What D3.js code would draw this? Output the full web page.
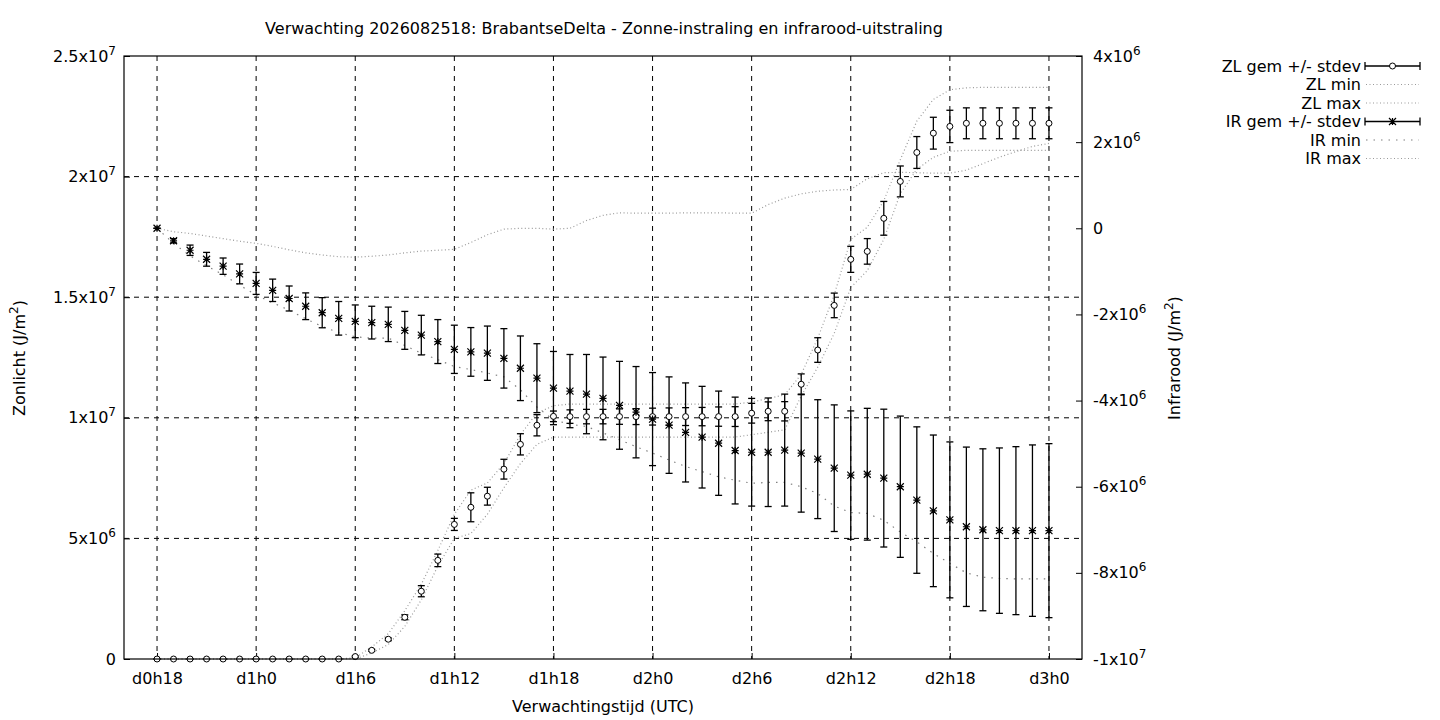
<!DOCTYPE html>
<html>
<head>
<meta charset="utf-8">
<script src="https://cdn.jsdelivr.net/npm/d3@7"></script>
<style>
  body { margin: 0; background: #fff; }
  svg { font-family: 'DejaVu Sans', sans-serif; font-size: 16px; }
</style>
</head>
<body>
<svg id="chart" width="1440" height="720"></svg>
<script>
// uren na d0h0, één punt per uur
const hours = [18, 19, 20, 21, 22, 23, 24, 25, 26, 27, 28, 29,
  30, 31, 32, 33, 34, 35, 36, 37, 38, 39, 40, 41,
  42, 43, 44, 45, 46, 47, 48, 49, 50, 51, 52, 53,
  54, 55, 56, 57, 58, 59, 60, 61, 62, 63, 64, 65,
  66, 67, 68, 69, 70, 71, 72];

// Zonlicht, in 10^6 J/m2
const zlMean = [0, 0, 0, 0, 0, 0, 0, 0, 0, 0, 0, 0,
  0.1, 0.36, 0.82, 1.73, 2.81, 4.09, 5.58, 6.29, 6.75, 7.87, 8.9, 9.69,
  10.06, 10.05, 10.05, 10.05, 10.05, 10.05, 10.05, 10.05, 10.05, 10.05, 10.05, 10.05,
  10.19, 10.27, 10.27, 11.39, 12.81, 14.66, 16.57, 16.9, 18.27, 19.8, 21.0, 21.8,
  22.08, 22.21, 22.21, 22.21, 22.21, 22.21, 22.21];
const zlStdev = [0, 0, 0, 0, 0, 0, 0, 0, 0, 0, 0, 0,
  0.03, 0.04, 0.05, 0.1, 0.23, 0.26, 0.25, 0.6, 0.37, 0.41, 0.44, 0.44,
  0.22, 0.28, 0.3, 0.3, 0.32, 0.33, 0.35, 0.36, 0.37, 0.38, 0.4, 0.41,
  0.41, 0.39, 0.4, 0.43, 0.51, 0.51, 0.54, 0.53, 0.7, 0.64, 0.66, 0.66,
  0.67, 0.64, 0.64, 0.64, 0.64, 0.64, 0.64];
const zlMin = [0, 0, 0, 0, 0, 0, 0, 0, 0, 0, 0, 0,
  0, 0.25, 0.6, 1.35, 2.45, 3.85, 5.0, 5.2, 6.0, 7.1, 8.1, 8.9,
  9.2, 9.2, 9.2, 9.2, 9.2, 9.2, 9.2, 9.2, 9.2, 9.2, 9.2, 9.2,
  9.3, 9.4, 9.5, 10.9, 12.1, 13.5, 15.4, 16.1, 17.4, 19.3, 20.3, 20.8,
  21.05, 21.09, 21.09, 21.09, 21.09, 21.09, 21.09];
const zlMax = [0, 0, 0, 0, 0, 0, 0, 0, 0, 0, 0, 0,
  0.05, 0.5, 1.05, 2.0, 3.1, 4.5, 6.0, 7.0, 7.3, 8.1, 9.3, 10.2,
  10.5, 10.57, 10.57, 10.57, 10.57, 10.57, 10.57, 10.57, 10.57, 10.57, 10.57, 10.57,
  10.65, 10.8, 10.95, 11.8, 13.3, 15.1, 17.4, 17.9, 19.0, 20.7, 22.3, 23.2,
  23.6, 23.68, 23.7, 23.7, 23.7, 23.7, 23.7];

// Infrarood, in 10^6 J/m2
const irMean = [0, -0.29, -0.51, -0.72, -0.88, -1.06, -1.28, -1.44, -1.63, -1.81, -1.96, -2.09,
  -2.16, -2.19, -2.23, -2.37, -2.48, -2.63, -2.81, -2.87, -2.9, -3.02, -3.25, -3.48,
  -3.71, -3.78, -3.85, -3.95, -4.11, -4.27, -4.43, -4.57, -4.74, -4.85, -4.99, -5.16,
  -5.2, -5.2, -5.15, -5.22, -5.36, -5.57, -5.73, -5.71, -5.8, -6.0, -6.31, -6.56,
  -6.77, -6.93, -7.0, -7.02, -7.02, -7.02, -7.02];
const irStdev = [0, 0.05, 0.12, 0.16, 0.19, 0.23, 0.255, 0.26, 0.29, 0.31, 0.35, 0.39,
  0.38, 0.38, 0.4, 0.44, 0.46, 0.51, 0.56, 0.565, 0.63, 0.69, 0.75, 0.8,
  0.85, 0.85, 0.92, 0.96, 1.02, 1.06, 1.08, 1.12, 1.15, 1.18, 1.21, 1.24,
  1.25, 1.26, 1.3, 1.37, 1.38, 1.47, 1.49, 1.53, 1.6, 1.64, 1.7, 1.76,
  1.81, 1.85, 1.88, 1.92, 1.95, 1.99, 2.02];
const irMin = [0, -0.35, -0.64, -0.87, -1.08, -1.32, -1.55, -1.73, -1.9, -2.1, -2.28, -2.42,
  -2.52, -2.55, -2.55, -2.72, -2.9, -3.05, -3.21, -3.28, -3.36, -3.45, -3.75, -4.15,
  -4.45, -4.55, -4.6, -4.75, -4.91, -5.07, -5.22, -5.38, -5.53, -5.65, -5.77, -5.85,
  -5.92, -5.9, -5.9, -6.0, -6.16, -6.45, -6.6, -6.62, -6.78, -7.05, -7.28, -7.55,
  -7.78, -8.0, -8.1, -8.13, -8.14, -8.14, -8.14];
const irMax = [0, -0.08, -0.12, -0.18, -0.24, -0.3, -0.35, -0.42, -0.5, -0.57, -0.62, -0.66,
  -0.67, -0.65, -0.62, -0.57, -0.53, -0.51, -0.49, -0.33, -0.15, -0.02, 0, 0,
  -0.02, 0, 0.18, 0.3, 0.36, 0.35, 0.35, 0.35, 0.36, 0.36, 0.36, 0.35,
  0.35, 0.55, 0.7, 0.8, 0.86, 0.89, 0.9, 1.15, 1.29, 1.3, 1.29, 1.28,
  1.28, 1.35, 1.5, 1.65, 1.78, 1.9, 1.97];

const xTicks = [18, 24, 30, 36, 42, 48, 54, 60, 66, 72];
const xTickLabels = ['d0h18', 'd1h0', 'd1h6', 'd1h12', 'd1h18', 'd2h0', 'd2h6', 'd2h12', 'd2h18', 'd3h0'];
const yLeftTicks = [0, 5, 10, 15, 20, 25];
const yLeftLabels = ['0', '5x10^6', '1x10^7', '1.5x10^7', '2x10^7', '2.5x10^7'];
const yRightTicks = [-10, -8, -6, -4, -2, 0, 2, 4];
const yRightLabels = ['-1x10^7', '-8x10^6', '-6x10^6', '-4x10^6', '-2x10^6', '0', '2x10^6', '4x10^6'];

const legendLabels = ['ZL gem +/- stdev', 'ZL min', 'ZL max', 'IR gem +/- stdev', 'IR min', 'IR max'];

const svg = d3.select('#chart');
const plot = { left: 124, right: 1082, top: 56, bottom: 659 };

const x = d3.scaleLinear().domain([16, 74]).range([plot.left, plot.right]);
const yL = d3.scaleLinear().domain([0, 25]).range([plot.bottom, plot.top]);
const yR = d3.scaleLinear().domain([-10, 4]).range([plot.bottom, plot.top]);

// tekst met macht als superscript, bv. 5x10^6
function powerText(sel, label) {
  const parts = label.split('^');
  sel.append('tspan').text(parts[0]);
  if (parts.length > 1) {
    sel.append('tspan').attr('dy', -7).attr('font-size', 12).text(parts[1]);
  }
}

// grid
const grid = svg.append('g')
  .attr('stroke', '#000')
  .attr('stroke-width', 1)
  .attr('stroke-dasharray', '5,5');
xTicks.forEach(h => {
  grid.append('line')
    .attr('x1', x(h)).attr('x2', x(h))
    .attr('y1', plot.top).attr('y2', plot.bottom);
});
yLeftTicks.slice(1, -1).forEach(v => {
  grid.append('line')
    .attr('x1', plot.left).attr('x2', plot.right)
    .attr('y1', yL(v)).attr('y2', yL(v));
});

// assen (ticks naar binnen)
svg.append('g')
  .attr('transform', `translate(0,${plot.bottom})`)
  .call(d3.axisBottom(x).tickValues(xTicks).tickSize(-6).tickPadding(14)
    .tickFormat((d, i) => xTickLabels[i]))
  .call(g => g.select('.domain').remove());

const leftAxis = svg.append('g')
  .attr('transform', `translate(${plot.left},0)`)
  .call(d3.axisLeft(yL).tickValues(yLeftTicks).tickSize(-6).tickPadding(8)
    .tickFormat(''));
leftAxis.select('.domain').remove();
leftAxis.selectAll('.tick text').each(function (d, i) {
  powerText(d3.select(this), yLeftLabels[i]);
});

const rightAxis = svg.append('g')
  .attr('transform', `translate(${plot.right},0)`)
  .call(d3.axisRight(yR).tickValues(yRightTicks).tickSize(-6).tickPadding(11)
    .tickFormat(''));
rightAxis.select('.domain').remove();
rightAxis.selectAll('.tick text').each(function (d, i) {
  powerText(d3.select(this), yRightLabels[i]);
});

svg.selectAll('.tick text')
  .attr('font-family', 'DejaVu Sans')
  .attr('font-size', 16)
  .attr('fill', '#000');

// min/max lijnen
const zlLine = (vals) => d3.line().x((d, i) => x(hours[i])).y(d => yL(d))(vals);
const irLine = (vals) => d3.line().x((d, i) => x(hours[i])).y(d => yR(d))(vals);

const dotted = [
  { d: zlLine(zlMin), color: '#9a9a9a', dash: '1,2.5' },
  { d: zlLine(zlMax), color: '#9a9a9a', dash: '1,2.5' },
  { d: irLine(irMin), color: '#808080', dash: '1.5,6' },
  { d: irLine(irMax), color: '#9a9a9a', dash: '1,2.5' }
];
dotted.forEach(l => {
  svg.append('path')
    .attr('d', l.d)
    .attr('fill', 'none')
    .attr('stroke', l.color)
    .attr('stroke-width', 1.2)
    .attr('stroke-dasharray', l.dash);
});

// foutbalken
function errorBars(means, sds, y) {
  const g = svg.append('g').attr('stroke', '#000').attr('stroke-width', 1.3);
  means.forEach((m, i) => {
    const cx = x(hours[i]);
    const top = y(m + sds[i]);
    const bot = y(m - sds[i]);
    g.append('line').attr('x1', cx).attr('x2', cx).attr('y1', top).attr('y2', bot);
    g.append('line').attr('x1', cx - 3.5).attr('x2', cx + 3.5).attr('y1', top).attr('y2', top);
    g.append('line').attr('x1', cx - 3.5).attr('x2', cx + 3.5).attr('y1', bot).attr('y2', bot);
  });
}
errorBars(zlMean, zlStdev, yL);
errorBars(irMean, irStdev, yR);

function circleMark(g, cx, cy) {
  g.append('circle').attr('cx', cx).attr('cy', cy).attr('r', 3)
    .attr('fill', '#fff').attr('stroke', '#000').attr('stroke-width', 1);
}
function starMark(g, cx, cy) {
  const s = 3.5;
  g.append('path')
    .attr('d', `M${cx - s},${cy}H${cx + s}M${cx},${cy - s}V${cy + s}` +
      `M${cx - s},${cy - s}L${cx + s},${cy + s}M${cx - s},${cy + s}L${cx + s},${cy - s}`)
    .attr('stroke', '#000').attr('stroke-width', 1.2).attr('fill', 'none');
}

const marks = svg.append('g');
zlMean.forEach((m, i) => circleMark(marks, x(hours[i]), yL(m)));
irMean.forEach((m, i) => starMark(marks, x(hours[i]), yR(m)));

// kader
svg.append('rect')
  .attr('x', plot.left).attr('y', plot.top)
  .attr('width', plot.right - plot.left).attr('height', plot.bottom - plot.top)
  .attr('fill', 'none').attr('stroke', '#000').attr('stroke-width', 1.2);

// titels
svg.append('text')
  .attr('x', 604).attr('y', 34)
  .attr('text-anchor', 'middle')
  .text('Verwachting 2026082518: BrabantseDelta - Zonne-instraling en infrarood-uitstraling');

svg.append('text')
  .attr('x', 603).attr('y', 712)
  .attr('text-anchor', 'middle')
  .text('Verwachtingstijd (UTC)');

svg.append('text')
  .attr('transform', 'translate(25,358) rotate(-90)')
  .attr('text-anchor', 'middle')
  .call(t => powerText(t, 'Zonlicht (J/m^2'))
  .append('tspan').attr('dy', 7).text(')');

svg.append('text')
  .attr('transform', 'translate(1180,358) rotate(-90)')
  .attr('text-anchor', 'middle')
  .call(t => powerText(t, 'Infrarood (J/m^2'))
  .append('tspan').attr('dy', 7).text(')');

// legenda
const legend = svg.append('g');
legendLabels.forEach((label, i) => {
  const ly = 66 + i * 18.5;
  legend.append('text')
    .attr('x', 1361).attr('y', ly + 5.5)
    .attr('text-anchor', 'end')
    .text(label);
  const style = dotted[[null, 0, 1, null, 2, 3][i]];
  if (i === 0 || i === 3) {
    const g = legend.append('g').attr('stroke', '#000').attr('stroke-width', 1.3);
    g.append('line').attr('x1', 1365).attr('x2', 1420).attr('y1', ly).attr('y2', ly);
    g.append('line').attr('x1', 1365).attr('x2', 1365).attr('y1', ly - 4).attr('y2', ly + 4);
    g.append('line').attr('x1', 1420).attr('x2', 1420).attr('y1', ly - 4).attr('y2', ly + 4);
    if (i === 0) circleMark(legend, 1392.5, ly);
    else starMark(legend, 1392.5, ly);
  } else {
    legend.append('line')
      .attr('x1', 1366).attr('x2', 1419).attr('y1', ly).attr('y2', ly)
      .attr('stroke', style.color)
      .attr('stroke-width', 1.2)
      .attr('stroke-dasharray', style.dash);
  }
});
</script>
</body>
</html>
